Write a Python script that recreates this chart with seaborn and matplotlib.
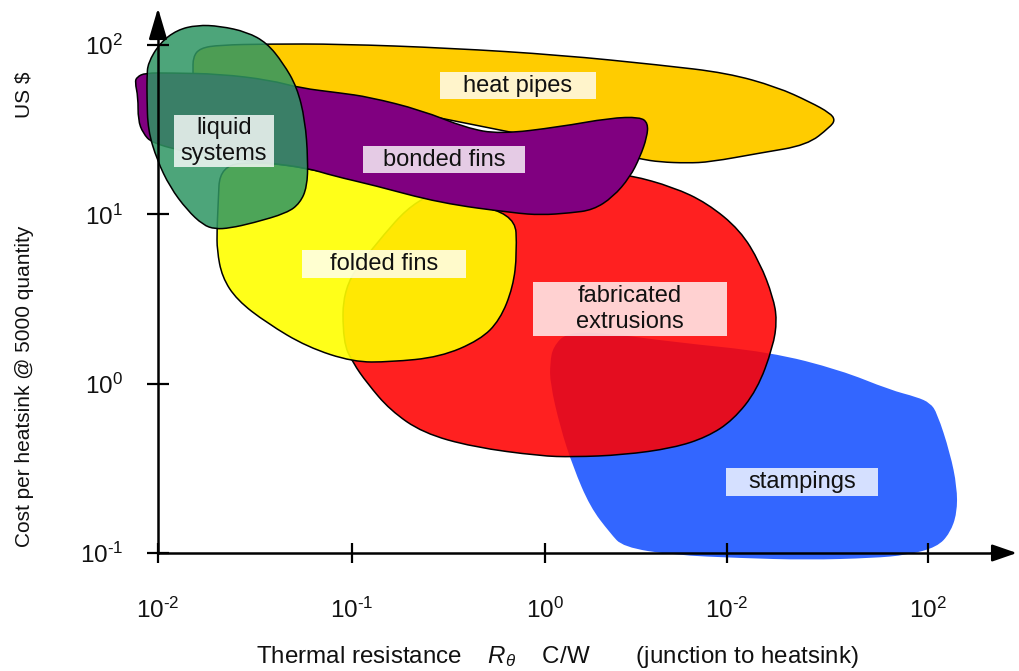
import numpy as np
import matplotlib
matplotlib.use("Agg")
import matplotlib.pyplot as plt
from matplotlib.path import Path
from matplotlib.patches import PathPatch
from matplotlib.colors import to_rgba
from matplotlib.ticker import NullLocator
import seaborn as sns

# ---------------- data (log10 thermal resistance, log10 cost) ----------------
stampings = [(0.026, 0.122), (0.041, 0.217), (0.114, 0.305), (0.320, 0.299), (0.662, 0.246),
             (1.163, 0.187), (1.525, 0.081), (1.783, -0.037), (1.922, -0.079), (1.990, -0.114),
             (2.026, -0.173), (2.093, -0.409), (2.129, -0.610), (2.129, -0.764), (2.093, -0.882),
             (2.026, -0.965), (1.871, -1.012), (1.695, -1.030), (1.354, -1.041), (1.008, -1.030),
             (0.662, -1.012), (0.403, -0.965), (0.336, -0.882), (0.233, -0.728), (0.145, -0.492),
             (0.078, -0.256), (0.026, 0.004)]

fabricated_extrusions = [(0.439, 1.232), (0.662, 1.161), (0.837, 1.067), (1.008, 0.907), (1.111, 0.713),
                         (1.178, 0.512), (1.199, 0.376), (1.178, 0.217), (1.096, -0.037), (0.972, -0.215),
                         (0.837, -0.315), (0.662, -0.380), (0.403, -0.421), (0.145, -0.433), (-0.026, -0.427),
                         (-0.372, -0.374), (-0.631, -0.291), (-0.801, -0.156), (-0.920, 0.004), (-0.992, 0.122),
                         (-1.044, 0.246), (-1.044, 0.571), (-0.889, 0.807), (-0.661, 1.102), (-0.388, 1.173),
                         (0.078, 1.215), (0.336, 1.238)]

folded_fins = [(-1.680, 1.291), (-1.473, 1.309), (-1.230, 1.274), (-0.889, 1.185), (-0.543, 1.085),
               (-0.155, 1.014), (-0.145, 0.772), (-0.165, 0.571), (-0.233, 0.376), (-0.336, 0.258),
               (-0.543, 0.157), (-0.801, 0.128), (-0.992, 0.128), (-1.230, 0.217), (-1.437, 0.358),
               (-1.592, 0.494), (-1.669, 0.630), (-1.695, 0.789), (-1.695, 0.907), (-1.690, 1.043)]

heat_pipes = [(-1.819, 1.841), (-1.819, 1.929), (-1.783, 1.982), (-1.680, 2.000), (-1.437, 2.006),
              (-1.059, 2.006), (-0.491, 1.982), (0.078, 1.941), (0.594, 1.882), (0.941, 1.835),
              (1.199, 1.752), (1.370, 1.663), (1.473, 1.598), (1.499, 1.557), (1.473, 1.516),
              (1.354, 1.409), (1.111, 1.362), (0.853, 1.309), (0.734, 1.303), (0.594, 1.309),
              (0.491, 1.327), (0.284, 1.380), (-0.233, 1.498), (-0.749, 1.616), (-1.266, 1.734),
              (-1.819, 1.793)]

bonded_fins = [(-2.109, 1.811), (-2.067, 1.835), (-1.938, 1.835), (-1.680, 1.829), (-1.421, 1.793),
               (-1.266, 1.746), (-1.059, 1.717), (-0.910, 1.693), (-0.641, 1.616), (-0.408, 1.510),
               (-0.233, 1.474), (0.072, 1.516), (0.336, 1.569), (0.491, 1.575), (0.532, 1.539),
               (0.527, 1.457), (0.491, 1.339), (0.439, 1.220), (0.351, 1.102), (0.248, 1.026),
               (0.129, 1.008), (-0.021, 0.996), (-0.160, 1.008), (-0.543, 1.067), (-0.889, 1.173),
               (-1.090, 1.226), (-1.230, 1.274), (-1.421, 1.303), (-1.680, 1.333), (-1.850, 1.368),
               (-2.031, 1.421), (-2.078, 1.480), (-2.103, 1.557), (-2.103, 1.693), (-2.119, 1.781)]

liquid_systems = [(-2.052, 1.894), (-1.990, 2.012), (-1.902, 2.089), (-1.798, 2.118), (-1.680, 2.112),
                  (-1.540, 2.077), (-1.437, 2.012), (-1.354, 1.894), (-1.282, 1.752), (-1.240, 1.557),
                  (-1.225, 1.321), (-1.230, 1.161), (-1.266, 1.067), (-1.333, 1.008), (-1.509, 0.949),
                  (-1.628, 0.919), (-1.705, 0.913), (-1.767, 0.937), (-1.850, 1.026), (-1.938, 1.161),
                  (-2.005, 1.321), (-2.052, 1.498), (-2.057, 1.693), (-2.057, 1.811)]

region_outlines = [stampings, fabricated_extrusions, folded_fins, heat_pipes, bonded_fins, liquid_systems]
region_names = ["stampings", "fabricated\nextrusions", "folded fins", "heat pipes", "bonded fins", "liquid\nsystems"]
region_colors = ["#3366FF", "#FF0000", "#FFFF00", "#FFCC00", "#800080", "#2F9663"]
region_alpha = [1.0, 0.875, 0.9, 1.0, 1.0, 0.855]
region_edge = [False, True, True, True, True, True]

# label centres (log10 R, log10 cost) and box paddings (px)
label_log_x = [1.328, 0.439, -0.832, -0.1395, -0.522, -1.659]
label_log_y = [-0.581, 0.441, 0.707, 1.758, 1.321, 1.433]
label_hpad = [22, 43, 28, 23, 20, 7]
label_vpad = [3, 3.5, 3, 2.5, 2.5, 2.5]

x_tick_log = [-2, -1, 0, 0.94, 1.98]
x_tick_labels = [r"$10^{\text{-}2}$", r"$10^{\text{-}1}$", r"$10^{0}$", r"$10^{\text{-}2}$", r"$10^{2}$"]
y_tick_log = [-1, 0, 1, 2]
y_tick_labels = [r"$10^{\text{-}1}$", r"$10^{0}$", r"$10^{1}$", r"$10^{2}$"]

x_label = r"Thermal resistance    $R_\theta$    C/W       (junction to heatsink)"
y_label = "Cost per heatsink @ 5000 quantity"
y_unit = "US $"

# ---------------- style ----------------
sns.set_theme(style="white")
plt.rcParams['font.family'] = ['Liberation Sans', 'DejaVu Sans']
plt.rcParams['mathtext.fontset'] = 'custom'
plt.rcParams['mathtext.rm'] = 'Liberation Sans'
plt.rcParams['mathtext.it'] = 'Liberation Sans:italic'
plt.rcParams['mathtext.bf'] = 'Liberation Sans:bold'
plt.rcParams['text.color'] = '#111111'


def smooth_closed(points):
    p = np.asarray(points, float)
    mids = (p + np.roll(p, -1, axis=0)) / 2
    verts = [mids[-1]]
    codes = [Path.MOVETO]
    for i in range(len(p)):
        verts += [p[i], mids[i]]
        codes += [Path.CURVE3, Path.CURVE3]
    verts.append(mids[-1])
    codes.append(Path.CLOSEPOLY)
    return Path(10 ** np.array(verts), codes)


def padbox(hpad, vpad):
    def style(x0, y0, width, height, mutation_size):
        x1, y1 = x0 - hpad, y0 - vpad
        x2, y2 = x0 + width + hpad, y0 + height + vpad
        return Path([(x1, y1), (x2, y1), (x2, y2), (x1, y2), (x1, y1)],
                    [Path.MOVETO, Path.LINETO, Path.LINETO, Path.LINETO, Path.CLOSEPOLY])
    return style


W, H = 1020, 671
fig = plt.figure(figsize=(W / 100, H / 100), dpi=100)
ax = fig.add_axes([158 / W, (H - 553) / H, (1000 - 158) / W, (553 - 33) / H])
ax.set_xscale('log')
ax.set_yscale('log')
ax.set_xlim(10 ** -2, 10 ** 2.351)
ax.set_ylim(10 ** -1, 10 ** 2.071)

for i, (pts, col, a, edge) in enumerate(zip(region_outlines, region_colors, region_alpha, region_edge)):
    patch = PathPatch(smooth_closed(pts), facecolor=to_rgba(col, a),
                      edgecolor='black' if edge else 'none', lw=1.1 if edge else 0,
                      zorder=1 + i * 0.1, clip_on=False)
    ax.add_patch(patch)

for name, lx, ly, hp, vp in zip(region_names, label_log_x, label_log_y, label_hpad, label_vpad):
    ax.text(10 ** lx, 10 ** ly, name, ha='center', va='center', fontsize=17, color='#111111',
            zorder=4,
            bbox=dict(boxstyle=padbox(hp, vp), facecolor='white', alpha=0.8, edgecolor='none'))

ax.set_xticks([10 ** v for v in x_tick_log])
ax.set_xticklabels(x_tick_labels)
ax.set_yticks([10 ** v for v in y_tick_log])
ax.set_yticklabels(y_tick_labels)
ax.xaxis.set_minor_locator(NullLocator())
ax.yaxis.set_minor_locator(NullLocator())
ax.set_axisbelow(False)

for s in ['top', 'right']:
    ax.spines[s].set_visible(False)
for s in ['left', 'bottom']:
    ax.spines[s].set_color('black')
    ax.spines[s].set_linewidth(1.8)
    ax.spines[s].set_zorder(3)

ax.tick_params(axis='x', which='major', bottom=True, top=False, direction='inout', length=15,
               width=1.6, color='black', labelsize=17.5, pad=25, labelcolor='#111111')
ax.tick_params(axis='y', which='major', left=True, right=False, direction='inout', length=16,
               width=1.6, color='black', labelsize=17.5, pad=17, labelcolor='#111111')

# axis arrows
ax.annotate('', xy=(0, 1.048), xycoords='axes fraction', xytext=(0, 0.99),
            arrowprops=dict(arrowstyle='-|>,head_length=0.95,head_width=0.28', color='black',
                            lw=1.8, mutation_scale=20, shrinkA=0, shrinkB=0),
            annotation_clip=False)
ax.annotate('', xy=(1.02, 0), xycoords='axes fraction', xytext=(0.99, 0),
            arrowprops=dict(arrowstyle='-|>,head_length=0.75,head_width=0.26', color='black',
                            lw=1.8, mutation_scale=20, shrinkA=0, shrinkB=0),
            annotation_clip=False)

fig.text(557 / W, 1 - 657 / H, x_label, ha='center', va='center', fontsize=17.4, color='#111111')
fig.text(25 / W, 1 - 386 / H, y_label, ha='center', va='center', rotation=90, fontsize=15, color='#111111')
fig.text(24 / W, 1 - 95 / H, y_unit, ha='center', va='center', rotation=90, fontsize=15, color='#111111')

fig.savefig("out.png", dpi=100)
